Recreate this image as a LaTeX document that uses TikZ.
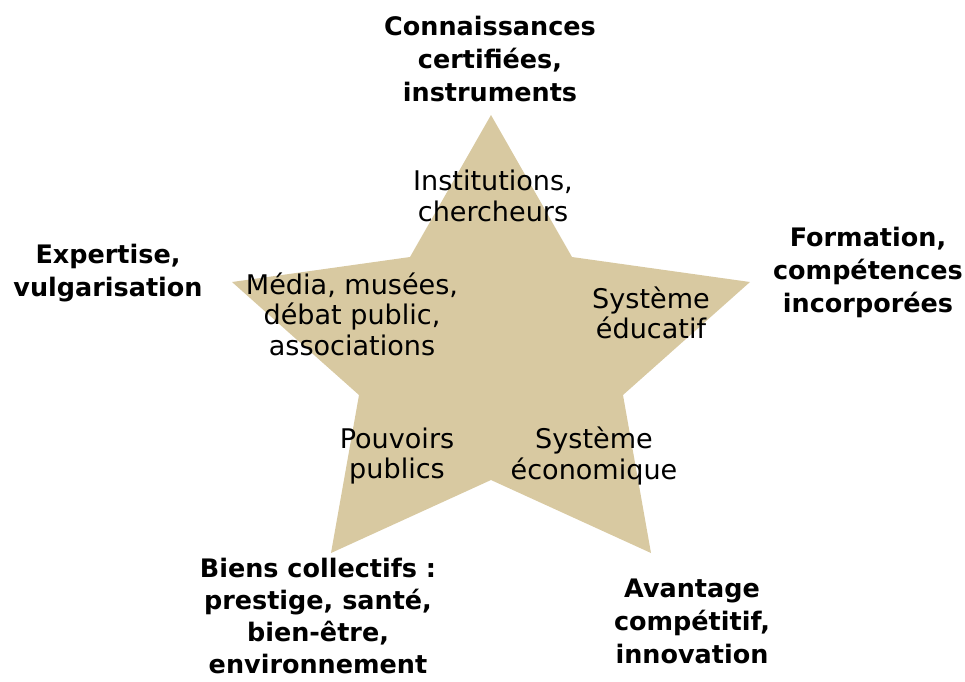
\documentclass[tikz,border=0pt]{standalone}
\usepackage{fontspec}
\setmainfont{DejaVu Sans}
\usepackage{tikz}
\definecolor{starTan}{HTML}{D8C9A1}
\tikzstyle{outer} = [align=center, font=\fontsize{14.5}{18.8}\selectfont\bfseries, inner sep=0pt]
\tikzstyle{inner} = [align=center, font=\fontsize{15.4}{17.4}\selectfont, inner sep=0pt]

\begin{document}
\begin{tikzpicture}[x=0.02cm, y=-0.02cm]

\useasboundingbox (0,0) rectangle (965,681);

% the star
\fill [starTan] (491,115) -- (572,257) -- (750,282) -- (623,395) -- (651,553)
  -- (491,480) -- (331,553) -- (359,395) -- (232,282) -- (410,257) -- cycle;

% inner texts
\node (inst) [inner] at (493,196) {Institutions,\\chercheurs};
\node (media) [inner] at (352,314) {Média, musées,\\débat public,\\associations};
\node (educ) [inner] at (651,313) {Système\\éducatif};
\node (pouv) [inner] at (397,456) {Pouvoirs\\publics};
\node (econ) [inner] at (594,456) {Système\\économique};

% outer texts
\node (conn) [outer] at (490,59) {Connaissances\\certifiées,\\instruments};
\node (expe) [outer] at (108,273) {Expertise,\\vulgarisation};
\node (form) [outer] at (868,272) {Formation,\\compétences\\incorporées};
\node (bien) [outer, font=\fontsize{14.5}{18.2}\selectfont\bfseries] at (318,616) {Biens collectifs :\\prestige, santé,\\bien-être,\\environnement};
\node (avan) [outer] at (692,621) {Avantage\\compétitif,\\innovation};

\end{tikzpicture}
\end{document}
